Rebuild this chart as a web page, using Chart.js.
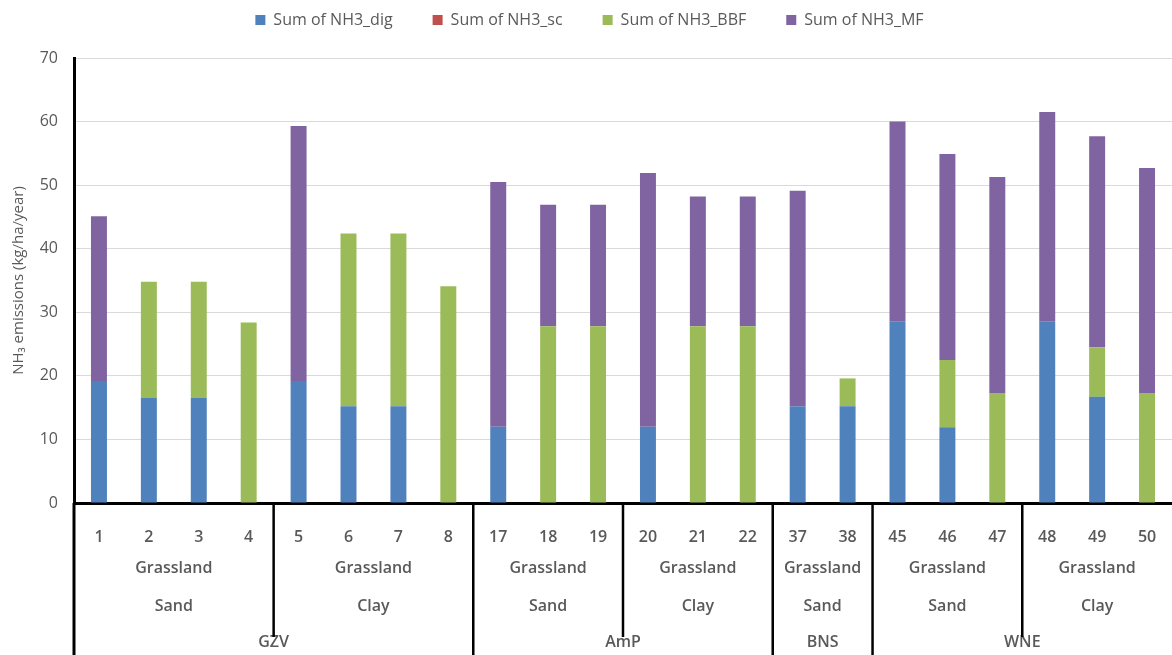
<!DOCTYPE html>
<html>
<head>
<meta charset="utf-8">
<script src="https://cdn.jsdelivr.net/npm/chart.js@4.4.0/dist/chart.umd.min.js"></script>
<style>
  html, body { margin: 0; padding: 0; background: #fff; }
  #wrap { width: 1172px; height: 655px; }
</style>
</head>
<body>
<div id="wrap"><canvas id="chart"></canvas></div>
<script>
// sample ids and their grouping levels
const samples = ["1", "2", "3", "4", "5", "6", "7", "8", "17", "18", "19", "20", "21", "22", "37", "38", "45", "46", "47", "48", "49", "50"];
const landUse = Array(22).fill("Grassland");
const soil = ["Sand", "Sand", "Sand", "Sand", "Clay", "Clay", "Clay", "Clay", "Sand", "Sand", "Sand", "Clay", "Clay", "Clay", "Sand", "Sand", "Sand", "Sand", "Sand", "Clay", "Clay", "Clay"];
const region = ["GZV", "GZV", "GZV", "GZV", "GZV", "GZV", "GZV", "GZV", "AmP", "AmP", "AmP", "AmP", "AmP", "AmP", "BNS", "BNS", "WNE", "WNE", "WNE", "WNE", "WNE", "WNE"];

// NH3 emissions (kg/ha/year)
const nh3Dig = [19.2, 16.5, 16.5, 0, 19.2, 15.2, 15.2, 0, 12.0, 0, 0, 12.0, 0, 0, 15.2, 15.2, 28.5, 11.9, 0, 28.5, 16.7, 0];
const nh3Sc = [0, 0, 0, 0, 0, 0, 0, 0, 0, 0, 0, 0, 0, 0, 0, 0, 0, 0, 0, 0, 0, 0];
const nh3Bbf = [0, 18.3, 18.3, 28.4, 0, 27.2, 27.2, 34.1, 0, 27.8, 27.8, 0, 27.8, 27.8, 0, 4.4, 0, 10.6, 17.3, 0, 7.8, 17.3];
const nh3Mf = [25.9, 0, 0, 0, 40.1, 0, 0, 0, 38.5, 19.1, 19.1, 39.9, 20.4, 20.4, 33.9, 0, 31.5, 32.4, 34.0, 33.0, 33.2, 35.4];

const yMax = 70;
const yStep = 10;

const TEXT = "#595959";
const FONT = '"Open Sans", "DejaVu Sans", sans-serif';

// consecutive runs of equal keys -> [{start, end}]
function runs(keyFn) {
  const out = [];
  samples.forEach((_, i) => {
    const last = out[out.length - 1];
    if (last && keyFn(last.start) === keyFn(i)) {
      last.end = i;
    } else {
      out.push({ start: i, end: i });
    }
  });
  return out;
}

// legend: wide gaps between items but sitting high above the plot
const legendPlacement = {
  id: "legendPlacement",
  afterInit(chart) {
    const legend = chart.legend;
    const fit = legend.fit.bind(legend);
    legend.fit = () => {
      fit();
      legend.height = 58;
    };
  },
  afterLayout(chart) {
    chart.legend.top -= 28;
    chart.legend.bottom -= 28;
  },
};

const groupLabels = {
  id: "groupLabels",
  afterDraw(chart) {
    const { ctx, chartArea, scales } = chart;
    const x = scales.x;
    const half = (x.getPixelForValue(1) - x.getPixelForValue(0)) / 2;
    const top = chartArea.bottom;
    const bottom = chart.height;

    const soilRuns = runs((i) => region[i] + "|" + soil[i]);
    const regionRuns = runs((i) => region[i]);

    ctx.save();
    ctx.font = "600 16px " + FONT;
    ctx.fillStyle = TEXT;
    ctx.textAlign = "center";
    ctx.textBaseline = "middle";

    soilRuns.forEach((r) => {
      const cx = (x.getPixelForValue(r.start) + x.getPixelForValue(r.end)) / 2;
      ctx.fillText(landUse[r.start], cx, top + 65);
      ctx.fillText(soil[r.start], cx, top + 103);
    });
    regionRuns.forEach((r) => {
      const cx = (x.getPixelForValue(r.start) + x.getPixelForValue(r.end)) / 2;
      ctx.fillText(region[r.start], cx, top + 139);
    });

    ctx.strokeStyle = "#000";
    ctx.lineWidth = 2.5;
    const line = (x0, y0, x1, y1) => {
      ctx.beginPath();
      ctx.moveTo(x0, y0);
      ctx.lineTo(x1, y1);
      ctx.stroke();
    };
    soilRuns.slice(1).forEach((r) => {
      const lx = x.getPixelForValue(r.start) - half;
      const newRegion = region[r.start] !== region[r.start - 1];
      line(lx, top, lx, newRegion ? bottom : top + 134);
    });
    ctx.lineWidth = 3;
    line(chartArea.left, top, chartArea.left, bottom);
    ctx.restore();
  },
};

const ctx = document.getElementById("chart").getContext("2d");
new Chart(ctx, {
  type: "bar",
  data: {
    labels: samples,
    datasets: [
      { label: "Sum of NH3_dig", data: nh3Dig, backgroundColor: "#4F81BD" },
      { label: "Sum of NH3_sc", data: nh3Sc, backgroundColor: "#C0504D" },
      { label: "Sum of NH3_BBF", data: nh3Bbf, backgroundColor: "#9BBB59" },
      { label: "Sum of NH3_MF", data: nh3Mf, backgroundColor: "#8064A2" },
    ],
  },
  options: {
    responsive: true,
    maintainAspectRatio: false,
    animation: false,
    layout: { autoPadding: false, padding: { top: 0, right: -7, bottom: 0, left: 0 } },
    datasets: {
      bar: { categoryPercentage: 1, barPercentage: 0.32, borderWidth: 0 },
    },
    plugins: {
      legend: {
        display: true,
        position: "top",
        labels: {
          boxWidth: 10,
          boxHeight: 10,
          padding: 40,
          color: TEXT,
          font: { family: FONT, size: 16 },
        },
      },
      tooltip: { enabled: false },
    },
    scales: {
      x: {
        stacked: true,
        grid: { display: false, drawTicks: true, tickLength: 25 },
        border: { display: true, color: "#000", width: 3 },
        ticks: {
          padding: 0,
          color: TEXT,
          font: { family: FONT, size: 16, weight: "600" },
          maxRotation: 0,
          autoSkip: false,
        },
        afterFit: (scale) => {
          scale.height = 152;
        },
      },
      y: {
        stacked: true,
        min: 0,
        max: yMax,
        grid: { color: "#d9d9d9", lineWidth: 1, drawTicks: false },
        border: { display: true, color: "#000", width: 3 },
        ticks: {
          stepSize: yStep,
          padding: 16,
          color: TEXT,
          font: { family: FONT, size: 16 },
        },
        title: {
          display: true,
          text: "NH₃ emissions (kg/ha/year)",
          color: TEXT,
          font: { family: FONT, size: 15 },
          padding: { top: 10, bottom: 0 },
        },
        afterFit: (scale) => {
          scale.width = 74;
        },
      },
    },
  },
  plugins: [legendPlacement, groupLabels],
});
</script>
</body>
</html>
